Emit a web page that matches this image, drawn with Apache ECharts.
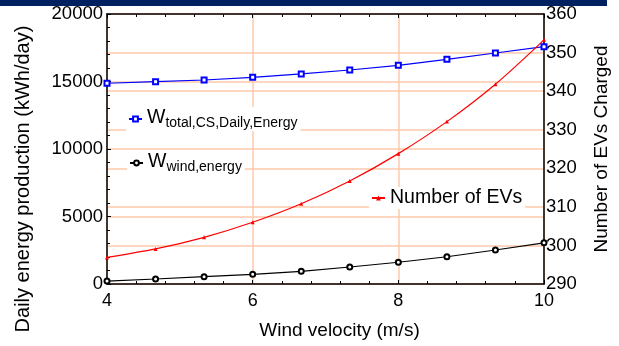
<!DOCTYPE html>
<html>
<head>
<meta charset="utf-8">
<script src="https://cdn.jsdelivr.net/npm/echarts@6/dist/echarts.min.js"></script>
<style>
  html, body { margin: 0; padding: 0; background: #fff; }
  #chart { width: 619px; height: 346px; }
</style>
</head>
<body>
<div id="chart"></div>
<script>
// wind velocity (m/s)
const velocity = [4, 4.667, 5.333, 6, 6.667, 7.333, 8, 8.667, 9.333, 10]
// daily energy (kWh/day)
const totalEnergy = [14870, 14990, 15110, 15310, 15560, 15850, 16200, 16640, 17110, 17580]
const windEnergy = [220, 370, 540, 720, 940, 1260, 1610, 2020, 2520, 3050]
// number of EVs charged
const evCount = [296.9, 299.1, 302.1, 306.0, 310.8, 316.7, 323.8, 332.1, 341.8, 353.3]

const font = 'Liberation Sans, Arial, sans-serif'
const gridColor = '#ffc8aa'

const pairs = (ys) => velocity.map((x, i) => [x, ys[i]])

const chart = echarts.init(document.getElementById('chart'))

const legendBase = {
  orient: 'horizontal',
  backgroundColor: '#fff',
  padding: [1, 3, 1, 2],
  itemWidth: 13,
  itemHeight: 6,
  textStyle: { fontFamily: font, color: '#000', fontSize: 19.5 }
}

const subRich = {
  w: { fontFamily: font, fontSize: 19.5, color: '#000', verticalAlign: 'bottom', padding: [0, 0, 2, 0] },
  s: { fontFamily: font, fontSize: 14, color: '#000', verticalAlign: 'bottom' }
}

chart.setOption({
  backgroundColor: '#fff',
  animation: false,
  graphic: [
    {
      type: 'rect',
      shape: { x: 0, y: 0, width: 607, height: 6 },
      style: { fill: '#002060' }
    }
  ],
  grid: { left: 107, right: 75, top: 14, bottom: 62 },
  legend: [
    Object.assign({}, legendBase, {
      left: 126, top: 107,
      data: ['total'],
      formatter: () => '{w|W}{s|total,CS,Daily,Energy}',
      textStyle: { fontFamily: font, rich: subRich }
    }),
    Object.assign({}, legendBase, {
      left: 127, top: 151,
      data: ['wind'],
      formatter: () => '{w|W}{s|wind,energy}',
      textStyle: { fontFamily: font, rich: subRich }
    }),
    Object.assign({}, legendBase, {
      left: 369, top: 187,
      data: ['Number of EVs']
    })
  ],
  xAxis: [
    {
      type: 'value',
      min: 4, max: 10, interval: 2,
      name: 'Wind velocity (m/s)',
      nameLocation: 'middle',
      nameGap: 37,
      nameTextStyle: { fontFamily: font, fontSize: 19, color: '#000', padding: [0, 0, 0, 28] },
      axisLine: { lineStyle: { color: '#000', width: 1.5 } },
      axisTick: { inside: true, length: 4, lineStyle: { color: '#000' } },
      minorTick: { show: true, splitNumber: 5, length: 3, lineStyle: { color: '#000' } },
      axisLabel: { fontFamily: font, fontSize: 18, color: '#000', margin: 8 },
      splitLine: { show: true, lineStyle: { color: gridColor, width: 1.5 } }
    },
    {
      type: 'value',
      position: 'top',
      min: 4, max: 10, interval: 2,
      axisLine: { lineStyle: { color: '#000', width: 1.5 } },
      axisTick: { inside: true, length: 4, lineStyle: { color: '#000' } },
      minorTick: { show: true, splitNumber: 5, length: 3, lineStyle: { color: '#000' } },
      axisLabel: { show: false },
      splitLine: { show: false }
    }
  ],
  yAxis: [
    {
      type: 'value',
      min: 0, max: 20000, interval: 5000,
      name: 'Daily energy production (kWh/day)',
      nameLocation: 'middle',
      nameGap: 74,
      nameTextStyle: { fontFamily: font, fontSize: 20, color: '#000', padding: [0, 60, 0, 0] },
      axisLine: { show: true, lineStyle: { color: '#000', width: 1.5 } },
      axisTick: { show: true, inside: true, length: 4, lineStyle: { color: '#000' } },
      minorTick: { show: true, splitNumber: 5, length: 3, lineStyle: { color: '#000' } },
      axisLabel: { fontFamily: font, fontSize: 18.5, color: '#000', margin: 4, formatter: (v) => String(v) },
      splitLine: { show: true, lineStyle: { color: gridColor, width: 1.5 } }
    },
    {
      type: 'value',
      position: 'right',
      min: 290, max: 360, interval: 10,
      name: 'Number of EVs Charged',
      nameLocation: 'middle',
      nameGap: 48,
      nameRotate: 90,
      nameTextStyle: { fontFamily: font, fontSize: 19, color: '#000' },
      axisLine: { show: true, lineStyle: { color: '#000', width: 1.5 } },
      axisTick: { show: false },
      axisLabel: { fontFamily: font, fontSize: 18.5, color: '#000', margin: 2 },
      splitLine: { show: true, lineStyle: { color: gridColor, width: 1.5 } }
    }
  ],
  series: [
    {
      name: 'total',
      type: 'line',
      xAxisIndex: 0, yAxisIndex: 0,
      data: pairs(totalEnergy),
      symbol: 'emptyRect',
      symbolSize: 5,
      lineStyle: { color: '#0000ff', width: 1.2 },
      itemStyle: { color: '#0000ff', borderWidth: 1.2 }
    },
    {
      name: 'wind',
      type: 'line',
      xAxisIndex: 0, yAxisIndex: 0,
      data: pairs(windEnergy),
      symbol: 'emptyCircle',
      symbolSize: 5,
      lineStyle: { color: '#000', width: 1.2 },
      itemStyle: { color: '#000', borderWidth: 1 }
    },
    {
      name: 'Number of EVs',
      type: 'line',
      xAxisIndex: 0, yAxisIndex: 1,
      data: pairs(evCount),
      smooth: 0.3,
      symbol: 'triangle',
      symbolSize: 4,
      lineStyle: { color: '#ff0000', width: 1.2 },
      itemStyle: { color: '#ff0000' }
    }
  ]
})
</script>
</body>
</html>
